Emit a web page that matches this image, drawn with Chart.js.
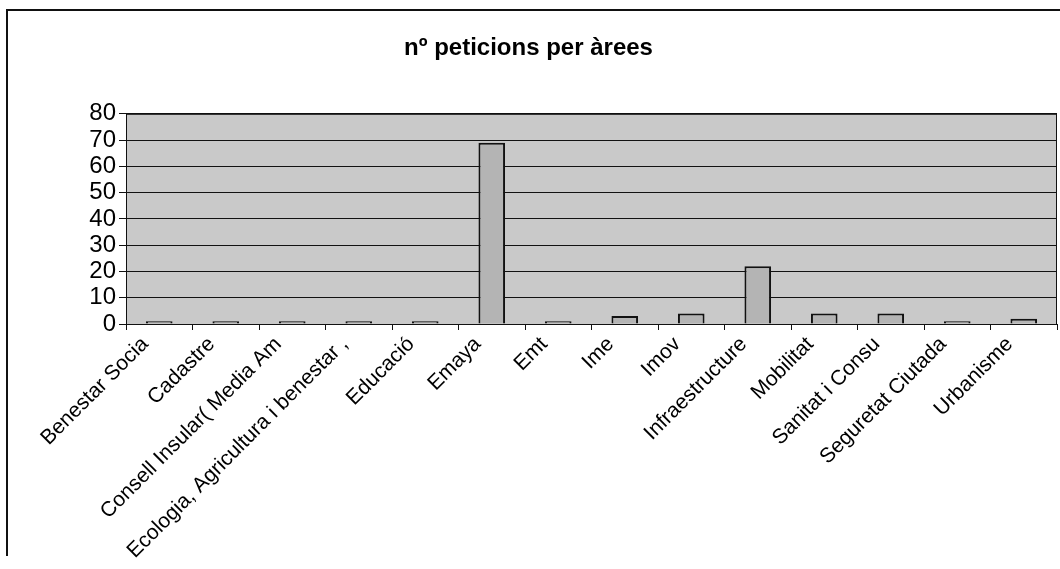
<!DOCTYPE html>
<html>
<head>
<meta charset="utf-8">
<script src="https://cdn.jsdelivr.net/npm/chart.js@4/dist/chart.umd.min.js"></script>
<style>
  html, body { margin: 0; padding: 0; background: #fff; }
  #wrap { width: 1060px; height: 569px; position: relative; }
</style>
</head>
<body>
<div id="wrap"><canvas id="chartcanvas"></canvas></div>
<script>
const areas = [
  "Benestar Socia", "Cadastre", "Consell Insular( Media Am", "Ecologia, Agricultura i benestar ,",
  "Educació", "Emaya", "Emt", "Ime", "Imov", "Infraestructure",
  "Mobilitat", "Sanitat i Consu", "Seguretat Ciutada", "Urbanisme",
];
const peticions = [1, 1, 1, 1, 1, 69, 1, 3, 4, 22, 4, 4, 1, 2];
const yTicks = [0, 10, 20, 30, 40, 50, 60, 70, 80];

const FONT = "'Liberation Sans', Arial, sans-serif";

// page frame + grey plot area
const frame = {
  id: "frame",
  beforeDraw(chart) {
    const c = chart.ctx;
    const a = chart.chartArea;
    c.save();
    c.strokeStyle = "#111";
    c.lineWidth = 2;
    c.beginPath();
    c.moveTo(1060, 10);
    c.lineTo(7, 10);
    c.lineTo(7, 556);
    c.stroke();
    c.fillStyle = "#c9c9c9";
    c.fillRect(a.left, a.top, a.right - a.left, a.bottom - a.top);
    c.restore();
  },
  afterDatasetsDraw(chart) {
    const c = chart.ctx;
    const a = chart.chartArea;
    c.save();
    c.strokeStyle = "#111";
    c.lineWidth = 1;
    c.strokeRect(a.left + 0.5, a.top + 0.5, a.right - a.left - 1, a.bottom - a.top);
    c.restore();
  },
};

const ctx = document.getElementById("chartcanvas");

const chart = new Chart(ctx, {
  type: "bar",
  data: {
    labels: areas,
    datasets: [
      {
        label: "nº peticions",
        data: peticions,
        backgroundColor: "#b4b4b4",
        borderColor: "#111",
        borderWidth: 2,
        categoryPercentage: 1,
        barPercentage: 0.4,
      },
    ],
  },
  plugins: [frame],
  options: {
    responsive: true,
    maintainAspectRatio: false,
    animation: false,
    layout: { padding: { left: 0, right: 3, top: 0, bottom: 0 } },
    plugins: {
      legend: { display: false },
      tooltip: { enabled: false },
      title: {
        display: true,
        text: "nº peticions per àrees",
        color: "#000",
        font: { family: FONT, size: 24, weight: "bold" },
        padding: { top: 34, bottom: 51 },
      },
    },
    scales: {
      x: {
        offset: true,
        grid: {
          offset: true,
          drawOnChartArea: false,
          color: "#111",
          tickLength: 6,
        },
        border: { color: "#111", width: 1 },
        ticks: {
          autoSkip: false,
          minRotation: 45,
          maxRotation: 45,
          labelOffset: -14,
          color: "#000",
          padding: 2,
          font: { family: FONT, size: 21 },
        },
        afterFit(scale) {
          scale.height = 245;
        },
      },
      y: {
        min: 0,
        max: 80,
        afterBuildTicks(scale) {
          scale.ticks = yTicks.map((v) => ({ value: v }));
        },
        grid: {
          color: "#111",
          lineWidth: 1,
          tickLength: 7,
        },
        border: { color: "#111", width: 1 },
        ticks: {
          autoSkip: false,
          stepSize: 10,
          color: "#000",
          padding: 3,
          font: { family: FONT, size: 24 },
        },
        afterFit(scale) {
          scale.width = 126;
        },
      },
    },
  },
});
</script>
</body>
</html>
